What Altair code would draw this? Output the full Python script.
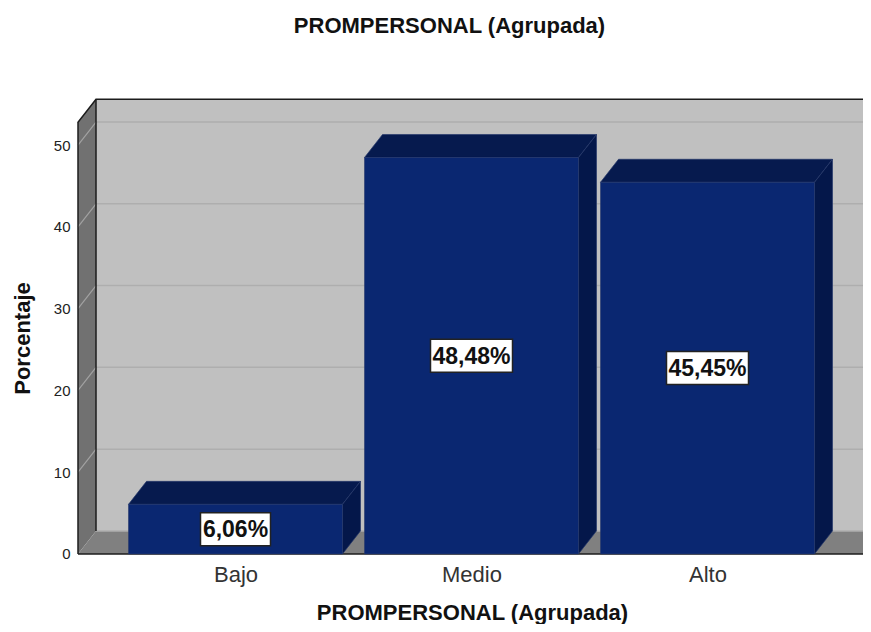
import json
import altair as alt
import pandas as pd

categories = ["Bajo", "Medio", "Alto"]
percentages = [6.06, 48.48, 45.45]
value_labels = ["6,06%", "48,48%", "45,45%"]
y_ticks = [0, 10, 20, 30, 40, 50]
chart_title = "PROMPERSONAL (Agrupada)"
y_title = "Porcentaje"

PX_X = 236.0           # pixels per category
PX_Y = 462 / 56.5      # pixels per percent
DX = 18 / PX_X         # depth of the 3D box, category units
DY = 23 / PX_Y         # depth of the 3D box, percent units
HALF = 107 / PX_X      # half bar width
X0, X1 = (76 - 235.5) / PX_X, (863 - 235.5) / PX_X
FLOOR_L, FLOOR_R = (78 - 235.5) / PX_X, (867 - 235.5) / PX_X
WALL_TOP = 52.8

xs = alt.Scale(domain=[X0, X1], nice=False, zero=False)
ys = alt.Scale(domain=[-0.5, 56], nice=False, zero=False)

x_axis = alt.Axis(
    values=[0, 1, 2],
    labelExpr=json.dumps(categories) + "[datum.value]",
    domain=False, ticks=False, grid=False,
    labelFont="Liberation Sans", labelFontSize=22, labelColor="#333333", labelPadding=6,
    title=chart_title, titleFont="Liberation Sans", titleFontSize=22, titleFontWeight="bold",
    titleColor="#111111", titleX=396, titleY=61, titleBaseline="alphabetic",
)
y_axis = alt.Axis(
    values=y_ticks,
    domain=False, ticks=False, grid=False,
    labelFont="Liberation Sans", labelFontSize=15, labelColor="#222222", labelPadding=6,
    title=y_title, titleFont="Liberation Sans", titleFontSize=22, titleFontWeight="bold",
    titleColor="#111111", titleX=-47, titleY=242, titleBaseline="alphabetic",
)


def X(field):
    return alt.X(field, type="quantitative", scale=xs, axis=x_axis)


def Y(field, **kw):
    return alt.Y(field, type="quantitative", scale=ys, axis=y_axis, **kw)


def poly(name, color, pts):
    return [{"part": name, "fill": color, "x": p[0], "y": p[1], "y2": p[2]} for p in pts]


def para_h(name, color, xl, xr, y):
    """Horizontal face going back from the front edge xl..xr at height y."""
    return poly(name, color, [
        (xl, y, y), (xl + DX, y, y + DY), (xr, y, y + DY), (xr + DX, y + DY, y + DY)])


def para_v(name, color, x, lo, hi):
    """Side face going back from the front edge at x between lo and hi."""
    return poly(name, color, [(x, lo, hi), (x + DX, lo + DY, hi + DY)])


def faces(rows, stroke=None):
    kw = dict(clip=True, interpolate="linear")
    if stroke:
        kw.update(stroke=stroke, strokeWidth=0.7)
    return alt.Chart(pd.DataFrame(rows)).mark_area(**kw).encode(
        x=X("x"),
        y=Y("y", stack=None),
        y2="y2:Q",
        color=alt.Color("fill:N", scale=None),
        detail="part:N",
    )


# Walls and floor
back = poly("back", "#c0c0c0", [(FLOOR_L + DX, DY, WALL_TOP + DY), (X1, DY, WALL_TOP + DY)])
shell = (
    back
    + para_v("left", "#717171", FLOOR_L, 0, WALL_TOP)
    + para_h("floor", "#808080", FLOOR_L, FLOOR_R, 0)
)

# Grid on the back wall and on the left wall
grid_back = pd.DataFrame({"x": FLOOR_L + DX, "x2": X1, "y": [t + DY for t in y_ticks]})
grid_left = pd.DataFrame(
    [{"t": t, "x": FLOOR_L, "y": t} for t in y_ticks[1:]]
    + [{"t": t, "x": FLOOR_L + DX, "y": t + DY} for t in y_ticks[1:]]
)
grid_a = alt.Chart(grid_back).mark_rule(color="#aeaeae", strokeWidth=1.5, clip=True).encode(
    x=X("x"), x2="x2:Q", y=Y("y")
)
grid_b = alt.Chart(grid_left).mark_line(color="#a2a2a2", strokeWidth=1.2, clip=True).encode(
    x=X("x"), y=Y("y"), detail="t:N"
)

# Dark frame lines
frame_rows = []
for i, pts in enumerate([
    [(FLOOR_L, 0), (FLOOR_L, WALL_TOP), (FLOOR_L + DX, WALL_TOP + DY), (X1, WALL_TOP + DY)],
    [(FLOOR_L + DX, WALL_TOP + DY), (FLOOR_L + DX, DY)],
    [(FLOOR_L, 0), (FLOOR_R, 0), (FLOOR_R + DX, DY)],
]):
    frame_rows += [{"id": i, "o": j, "x": p[0], "y": p[1]} for j, p in enumerate(pts)]
frame = alt.Chart(pd.DataFrame(frame_rows)).mark_line(color="#1c1c1c", strokeWidth=1.5, clip=True).encode(
    x=X("x"),
    y=Y("y"),
    detail="id:N",
    order="o:Q",
)

# Bars: top and side faces, then the front
bar_faces = []
for i, v in enumerate(percentages):
    bar_faces += para_h(f"top{i}", "#061a4e", i - HALF, i + HALF, v)
    bar_faces += para_v(f"side{i}", "#04174a", i + HALF, 0, v)
fronts = pd.DataFrame({
    "x": [i - HALF for i in range(3)],
    "x2": [i + HALF for i in range(3)],
    "v": percentages,
    "lo": [0] * 3,
})
front = alt.Chart(fronts).mark_rect(color="#0a2771", stroke="#27396b", strokeWidth=0.6, clip=True).encode(
    x=X("x"), x2="x2:Q",
    y=Y("v"), y2="lo:Q",
)

# Value labels in white boxes
boxes = pd.DataFrame({
    "cx": list(range(3)),
    "mid": [v / 2 for v in percentages],
    "label": value_labels,
})
boxes["hw"] = [(12 * len(s) + 10) / 2 / PX_X for s in value_labels]
boxes["x"] = boxes.cx - boxes.hw
boxes["x2"] = boxes.cx + boxes.hw
boxes["y"] = boxes.mid - 16.5 / PX_Y
boxes["y2"] = boxes.mid + 16.5 / PX_Y
box = alt.Chart(boxes).mark_rect(color="white", stroke="#222222", strokeWidth=1.5).encode(
    x=X("x"), x2="x2:Q",
    y=Y("y"), y2="y2:Q",
)
box_text = alt.Chart(boxes).mark_text(
    font="Liberation Sans", fontSize=23, fontWeight="bold", color="#111111", baseline="middle", dy=1
).encode(
    x=X("cx"),
    y=Y("mid"),
    text="label:N",
)

chart = alt.layer(
    faces(shell), grid_a, grid_b, frame, faces(bar_faces, stroke="#27396b"), front, box, box_text
).properties(
    width=787,
    height=462,
    padding={"left": 68, "top": 88, "right": 0, "bottom": 66},
    autosize=alt.AutoSizeParams(type="none"),
    title=alt.TitleParams(
        chart_title, font="Liberation Sans", fontSize=22, fontWeight="bold", color="#111111",
        anchor="middle", dx=-20, offset=41, baseline="alphabetic",
    ),
).configure_view(stroke=None)

chart.save("out.html", embed_options={"renderer": "svg", "actions": False})
